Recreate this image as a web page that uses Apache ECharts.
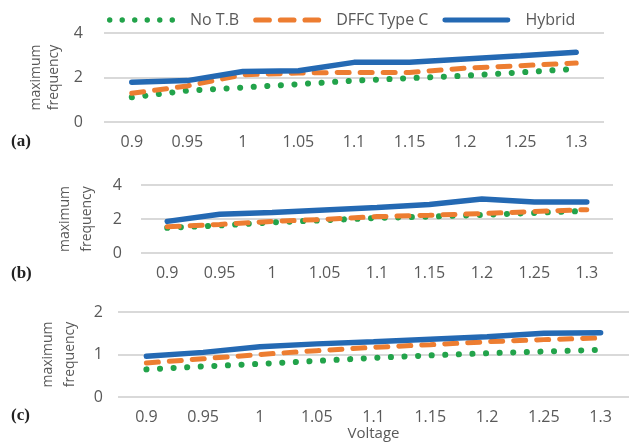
<!DOCTYPE html>
<html>
<head>
<meta charset="utf-8">
<script src="https://cdn.jsdelivr.net/npm/echarts@6/dist/echarts.min.js"></script>
<style>html,body{margin:0;padding:0;background:#fff}#c{width:629px;height:443px}</style>
</head>
<body>
<div id="c"></div>
<script>
const categories = ['0.9','0.95','1','1.05','1.1','1.15','1.2','1.25','1.3'];
const seriesNames = ['No T.B','DFFC Type C','Hybrid'];
const panelLabels = ['(a)','(b)','(c)'];
const yAxisName = 'maximum\nfrequency';
const xAxisName = 'Voltage';

const noTB_a   = [1.11,1.41,1.55,1.70,1.86,1.97,2.08,2.23,2.39];
const dffc_a   = [1.29,1.62,2.12,2.20,2.23,2.23,2.42,2.53,2.65];
const hybrid_a = [1.79,1.86,2.27,2.30,2.68,2.68,2.83,2.98,3.14];

const noTB_b   = [1.48,1.62,1.80,1.93,2.06,2.14,2.24,2.36,2.48];
const dffc_b   = [1.54,1.68,1.86,1.98,2.14,2.22,2.32,2.44,2.55];
const hybrid_b = [1.86,2.28,2.38,2.53,2.67,2.85,3.18,3.00,3.00];

const noTB_c   = [0.65,0.72,0.78,0.85,0.92,0.98,1.03,1.07,1.11];
const dffc_c   = [0.80,0.90,1.00,1.09,1.17,1.23,1.30,1.35,1.39];
const hybrid_c = [0.96,1.05,1.18,1.25,1.30,1.36,1.42,1.50,1.51];

const yMax = [4, 4, 2];
const yInterval = [2, 2, 1];

const TXT = '#595959';
const FONT = 'Open Sans';
const colors = ['#22a34a', '#ED7D31', '#2469b3'];

const panels = [
  {data: [noTB_a, dffc_a, hybrid_a]},
  {data: [noTB_b, dffc_b, hybrid_b]},
  {data: [noTB_c, dffc_c, hybrid_c]}
];

const grids = [
  {left: 104, right: 25, top: 33, height: 89},
  {left: 141, right: 16, top: 185, height: 68},
  {left: 118, right: -4, top: 312, height: 85}
];
const yLabelMargin = [21, 19, 15];
const yNameGap = [38, 43, 37];
const yNameLH = [18, 22, 22];
const panelLabelY = [143, 275, 417];

const lineStyles = [
  {width: 6, type: [0.1, 13.5], cap: 'round'},
  {width: 5, type: [12, 11], cap: 'round'},
  {width: 5.5, type: 'solid', cap: 'round'}
];

// legend icon shapes (paths)
function dotsPath(n, step, r) {
  let s = '';
  for (let k = 0; k < n; k++) {
    const cx = r + k * step;
    s += 'M' + (cx - r) + ',' + r + 'a' + r + ',' + r + ' 0 1,0 ' + (2 * r) + ',0a' + r + ',' + r + ' 0 1,0 ' + (-2 * r) + ',0Z';
  }
  return 'path://' + s;
}
function pillsPath(n, len, gap, h) {
  const r = h / 2;
  let s = '';
  for (let k = 0; k < n; k++) {
    const x0 = k * (len + gap);
    s += 'M' + (x0 + r) + ',0L' + (x0 + len - r) + ',0a' + r + ',' + r + ' 0 0,1 0,' + h +
         'L' + (x0 + r) + ',' + h + 'a' + r + ',' + r + ' 0 0,1 0,' + (-h) + 'Z';
  }
  return 'path://' + s;
}
const legendIcons = [dotsPath(6, 12, 2.6), pillsPath(3, 19, 6, 5.2), pillsPath(1, 77, 0, 5.5)];

const xAxes = [], yAxes = [], series = [];
panels.forEach((p, i) => {
  xAxes.push({
    type: 'category', gridIndex: i, data: categories, boundaryGap: true,
    axisLine: {show: false}, axisTick: {show: false},
    axisLabel: {color: TXT, fontSize: 16, fontFamily: FONT, margin: 12},
    name: i === 2 ? xAxisName : '', nameLocation: 'middle', nameGap: 28,
    nameTextStyle: {color: TXT, fontSize: 15, fontFamily: FONT}
  });
  yAxes.push({
    type: 'value', gridIndex: i, min: 0, max: yMax[i], interval: yInterval[i],
    axisLine: {show: false}, axisTick: {show: false},
    axisLabel: {color: TXT, fontSize: 16, fontFamily: FONT, margin: yLabelMargin[i]},
    splitLine: {lineStyle: {color: '#d9d9d9', width: 2}},
    name: yAxisName, nameLocation: 'middle', nameRotate: 90, nameGap: yNameGap[i],
    nameTextStyle: {color: TXT, fontSize: 14, fontFamily: FONT, lineHeight: yNameLH[i], align: 'center'}
  });
  p.data.forEach((d, k) => {
    series.push({
      name: seriesNames[k], type: 'line', xAxisIndex: i, yAxisIndex: i,
      data: d, showSymbol: false, symbol: 'none', animation: false,
      color: colors[k],
      lineStyle: Object.assign({color: colors[k]}, lineStyles[k])
    });
  });
});

const chart = echarts.init(document.getElementById('c'), null, {renderer: 'canvas'});
chart.setOption({
  animation: false,
  backgroundColor: '#fff',
  legend: {
    data: seriesNames.map((n, k) => ({name: n, icon: legendIcons[k]})),
    left: 107, top: 12, padding: 0,
    itemWidth: 68, itemHeight: 5.5, itemGap: 14,
    itemStyle: {borderWidth: 0},
    textStyle: {color: TXT, fontSize: 16, fontFamily: FONT, padding: [0, 0, 0, 10]}
  },
  grid: grids,
  xAxis: xAxes,
  yAxis: yAxes,
  series: series,
  graphic: panelLabels.map((t, i) => ({
    type: 'text', left: 11, top: panelLabelY[i] - 10,
    style: {text: t, fill: '#222', font: 'bold 17px "Liberation Serif"'}
  }))
});
</script>
</body>
</html>
